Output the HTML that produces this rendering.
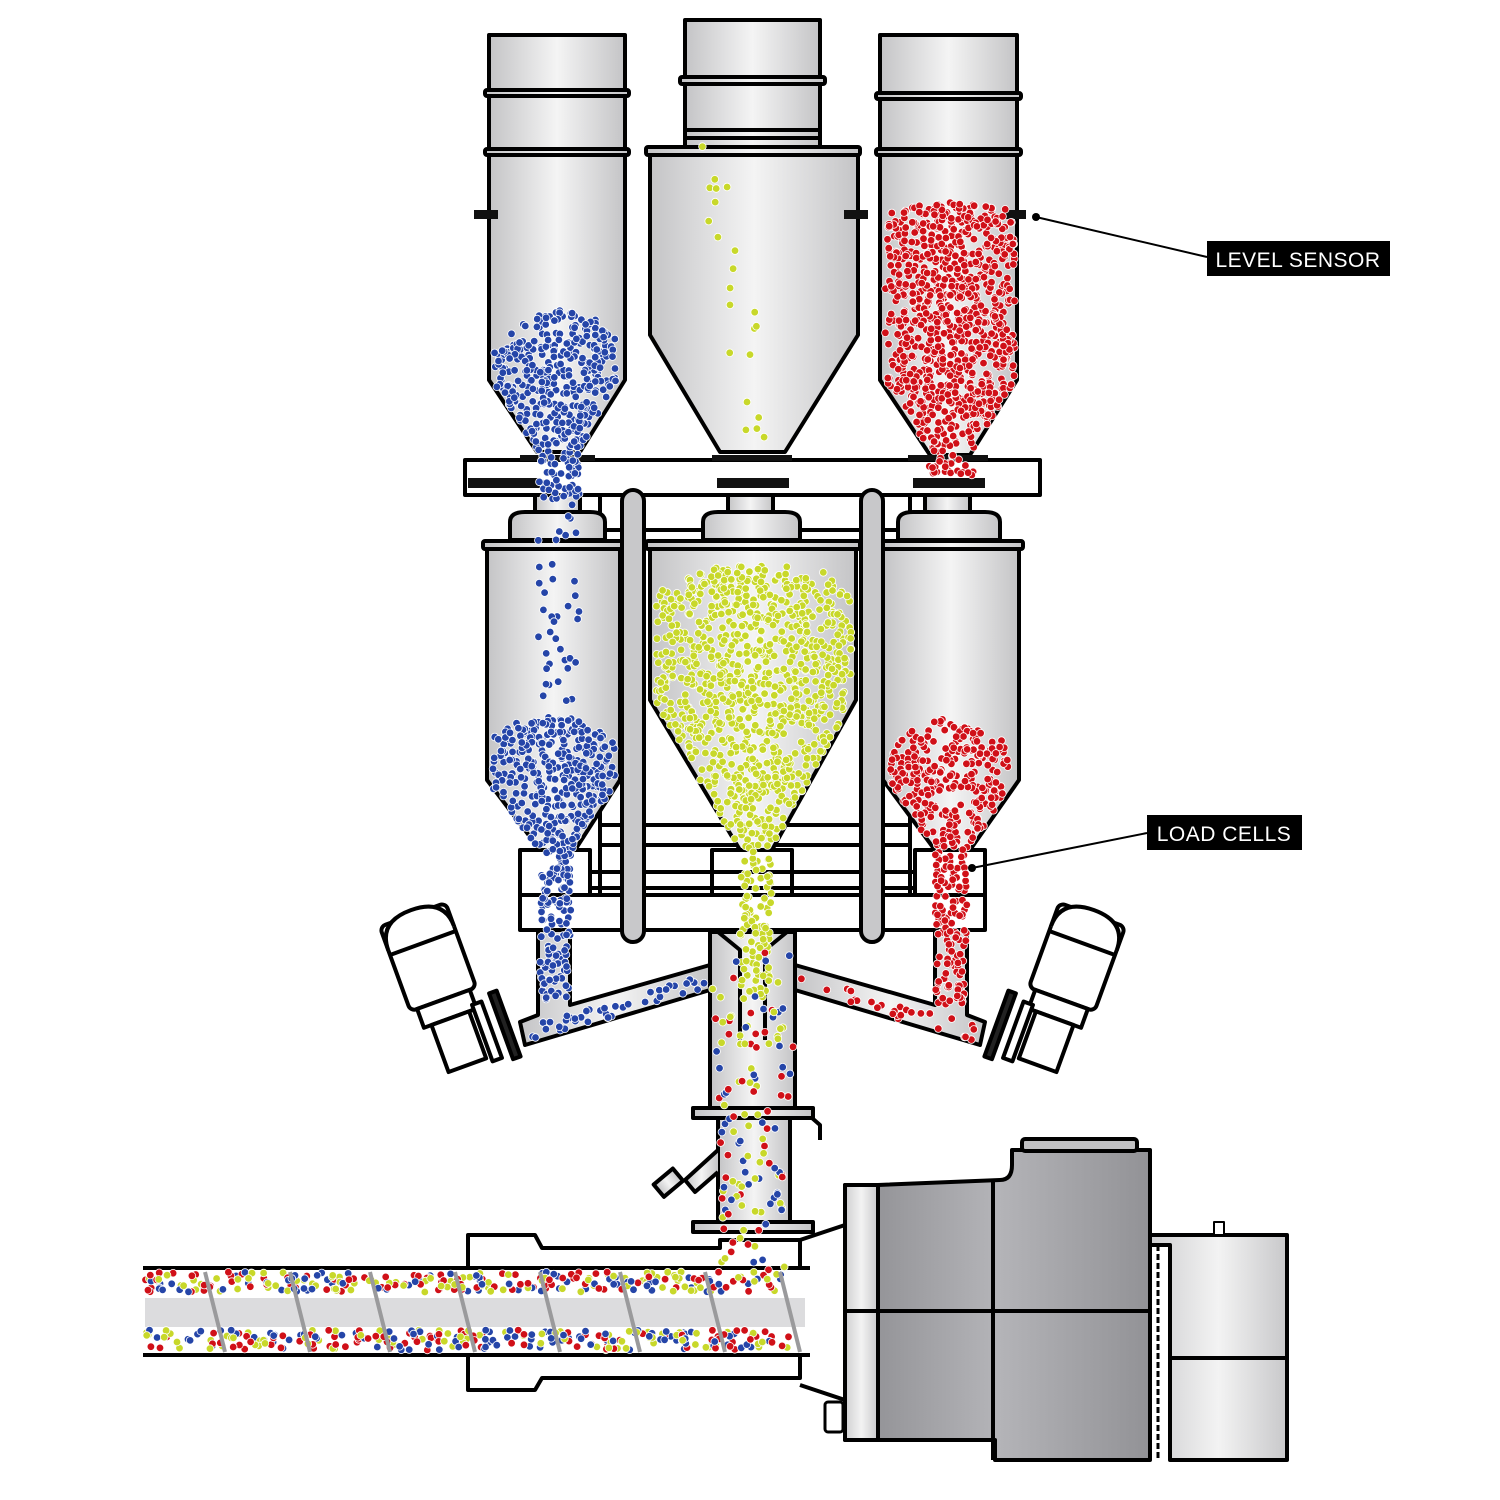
<!DOCTYPE html>
<html><head><meta charset="utf-8">
<style>
html,body{margin:0;padding:0;background:#fff;}
svg{display:block;}
.l{font-family:"Liberation Sans",sans-serif;font-size:21px;fill:#fff;letter-spacing:0.5px;}
</style></head>
<body>
<svg id="s" width="1500" height="1500" viewBox="0 0 1500 1500" xmlns="http://www.w3.org/2000/svg">
<defs>
<linearGradient id="m" x1="0" x2="1" y1="0" y2="0">
<stop offset="0" stop-color="#c4c4c6"/><stop offset="0.5" stop-color="#f4f4f4"/><stop offset="1" stop-color="#c4c4c6"/>
</linearGradient>
<linearGradient id="d" x1="0" x2="1" y1="0" y2="0">
<stop offset="0" stop-color="#8c8c90"/><stop offset="0.5" stop-color="#b4b4b8"/><stop offset="1" stop-color="#929296"/>
</linearGradient>
<linearGradient id="lt" x1="0" x2="1" y1="0" y2="0">
<stop offset="0" stop-color="#cfcfd1"/><stop offset="0.5" stop-color="#f3f3f3"/><stop offset="1" stop-color="#c8c8ca"/>
</linearGradient>
</defs>
<g stroke="#000" stroke-width="4" stroke-linejoin="round" fill="url(#m)">
<path d="M489,35 H625 V380 L580,452 H537 L489,380 Z"/>
<rect x="485" y="90" width="144" height="6" rx="2"/>
<rect x="485" y="149" width="144" height="6" rx="2"/>
<path d="M685,20 H820 V148 H685 Z"/>
<rect x="680" y="77" width="145" height="7" rx="2"/>
<rect x="685" y="130" width="135" height="8" rx="2"/>
<path d="M650,152 H858 V335 L785,452 H720 L650,335 Z"/>
<rect x="646" y="147" width="214" height="8" rx="2"/>
<path d="M880,35 H1017 V380 L970,455 H930 L880,380 Z"/>
<rect x="876" y="93" width="145" height="6" rx="2"/>
<rect x="876" y="149" width="145" height="6" rx="2"/>
<rect x="465" y="460" width="575" height="35" fill="#fff"/>
<rect x="600" y="495" width="310" height="400" fill="#fff"/>
<line x1="600" y1="530" x2="910" y2="530"/>
<line x1="600" y1="825" x2="910" y2="825"/>
<line x1="600" y1="845" x2="910" y2="845"/>
<path d="M510,540 V522 Q510,512 525,512 H590 Q605,512 605,522 V540 Z"/>
<path d="M703,540 V522 Q703,512 718,512 H785 Q800,512 800,522 V540 Z"/>
<path d="M898,540 V522 Q898,512 913,512 H985 Q1000,512 1000,522 V540 Z"/>
<rect x="535" y="495" width="45" height="17"/>
<rect x="728" y="495" width="45" height="17"/>
<rect x="925" y="495" width="45" height="17"/>
<path d="M487,545 H620 V780 L575,850 H540 L487,780 Z"/>
<rect x="483" y="541" width="141" height="8" rx="2"/>
<path d="M650,545 H856 V700 L772,850 H740 L650,700 Z"/>
<rect x="646" y="541" width="214" height="8" rx="2"/>
<path d="M883,545 H1019 V780 L970,850 H935 L883,780 Z"/>
<rect x="879" y="541" width="144" height="8" rx="2"/>
<rect x="520" y="850" width="70" height="45" fill="#fff"/>
<rect x="712" y="850" width="80" height="45" fill="#fff"/>
<rect x="915" y="850" width="70" height="45" fill="#fff"/>
<line x1="590" y1="872" x2="915" y2="872"/>
<line x1="590" y1="888" x2="915" y2="888"/>
<rect x="520" y="895" width="465" height="35" fill="#fff"/>
<rect x="622" y="490" width="22" height="452" rx="11" fill="#c8c8ca"/>
<rect x="861" y="490" width="22" height="452" rx="11" fill="#c8c8ca"/>
<path d="M538,930 V1015 L520,1022 L525,1045 L710,990 V965 L570,1005 V930 Z"/>
<path d="M967,930 V1015 L985,1022 L980,1045 L795,990 V965 L935,1005 V930 Z"/>
<rect x="710" y="932" width="85" height="180"/>
<path d="M718,932 L740,950 V1040 M787,932 L765,950 V1040" fill="none"/>
<rect x="718" y="1112" width="72" height="115"/>
<rect x="693" y="1108" width="120" height="10"/>
<path d="M812,1118 L820,1125 V1140" fill="none"/>
<path d="M718,1150 L685,1180 L695,1192 L718,1172" />
<rect x="656" y="1175" width="25" height="16" transform="rotate(-40 668 1183)"/>
<rect x="693" y="1222" width="120" height="10"/>
<g transform="rotate(-20 440 990)">
<rect x="405" y="910" width="70" height="90" rx="6" fill="#fff"/>
<path d="M405,935 Q405,905 440,905 Q475,905 475,935" fill="#fff"/>
<line x1="405" y1="940" x2="475" y2="940"/>
<rect x="412" y="1000" width="56" height="20" fill="#fff"/>
<rect x="420" y="1020" width="40" height="50" fill="#fff"/>
<rect x="465" y="1015" width="10" height="60" fill="#fff"/>
<rect x="485" y="1010" width="8" height="70" fill="#222"/>
</g>
<g transform="rotate(20 1065 990)">
<rect x="1030" y="910" width="70" height="90" rx="6" fill="#fff"/>
<path d="M1030,935 Q1030,905 1065,905 Q1100,905 1100,935" fill="#fff"/>
<line x1="1030" y1="940" x2="1100" y2="940"/>
<rect x="1037" y="1000" width="56" height="20" fill="#fff"/>
<rect x="1045" y="1020" width="40" height="50" fill="#fff"/>
<rect x="1030" y="1015" width="10" height="60" fill="#fff"/>
<rect x="1012" y="1010" width="8" height="70" fill="#222"/>
</g>
<path d="M468,1268 V1235 H535 L542,1248 H720 V1240 H800 V1268" fill="#fff"/>
<path d="M468,1355 V1390 H535 L542,1378 H800 V1355" fill="#fff"/>
<rect x="143" y="1268" width="665" height="87" fill="#fff" stroke="none"/>
<line x1="143" y1="1268" x2="810" y2="1268"/>
<line x1="143" y1="1355" x2="810" y2="1355"/>
<rect x="145" y="1298" width="660" height="29" fill="#dcdcde" stroke="none"/>
<path d="M800,1240 L845,1225 M800,1385 L845,1400" fill="none"/>
<path d="M845,1185 H878 L1000,1180 Q1012,1180 1012,1165 V1150 H1150 V1460 H995 V1440 L878,1440 H845 Z" fill="url(#d)"/>
<rect x="845" y="1185" width="33" height="255" fill="url(#lt)"/>
<line x1="878" y1="1185" x2="878" y2="1440"/>
<line x1="993" y1="1180" x2="993" y2="1460"/>
<line x1="845" y1="1311" x2="1150" y2="1311"/>
<rect x="1022" y="1139" width="115" height="12" rx="3" fill="#c0c0c2"/>
<path d="M1150,1235 H1287 V1460 H1170 V1245 H1150 Z" fill="url(#lt)"/>
<line x1="1170" y1="1358" x2="1287" y2="1358"/>
<line x1="1158" y1="1245" x2="1158" y2="1460" stroke-width="3" stroke-dasharray="6 3"/>
<rect x="1214" y="1222" width="10" height="13" fill="#fff" stroke-width="2"/>
<rect x="825" y="1402" width="18" height="30" rx="3" fill="#fff" stroke-width="3"/>
</g>
<g fill="#111">
<rect x="474" y="210" width="24" height="9"/><rect x="844" y="210" width="24" height="9"/><rect x="1004" y="210" width="22" height="9"/>
<rect x="468" y="478" width="72" height="10"/><rect x="717" y="478" width="72" height="10"/><rect x="913" y="478" width="72" height="10"/>
<rect x="520" y="455" width="75" height="6"/><rect x="712" y="455" width="80" height="6"/><rect x="908" y="455" width="80" height="6"/>
</g>
<g id="p" stroke="#fff" stroke-width="0.8"></g>
<g stroke="#9a9a9c" stroke-width="4">
<line x1="205" y1="1272" x2="225" y2="1352"/><line x1="290" y1="1272" x2="310" y2="1352"/><line x1="370" y1="1272" x2="390" y2="1352"/><line x1="455" y1="1272" x2="475" y2="1352"/><line x1="540" y1="1272" x2="560" y2="1352"/><line x1="620" y1="1272" x2="640" y2="1352"/><line x1="705" y1="1272" x2="725" y2="1352"/><line x1="780" y1="1272" x2="800" y2="1352"/>
</g>
<line x1="1036" y1="217" x2="1207" y2="257" stroke="#000" stroke-width="2"/>
<circle cx="1036" cy="217" r="4" fill="#000"/>
<rect x="1207" y="241" width="183" height="35" fill="#000"/>
<text class="l" x="1298" y="267" text-anchor="middle">LEVEL SENSOR</text>
<line x1="972" y1="868" x2="1147" y2="833" stroke="#000" stroke-width="2"/>
<circle cx="972" cy="868" r="4" fill="#000"/>
<rect x="1147" y="815" width="155" height="35" fill="#000"/>
<text class="l" x="1224" y="841" text-anchor="middle">LOAD CELLS</text>
</svg>
<script>
(function(){
var seed=7;function r(){seed=(seed*16807)%2147483647;return seed/2147483647;}
var g=document.getElementById('p'),ns='http://www.w3.org/2000/svg';
var B='#2545a8',R='#d01018',Y='#c8d82a';
function inP(x,y,p){var c=false;for(var i=0,j=p.length-1;i<p.length;j=i++){var xi=p[i][0],yi=p[i][1],xj=p[j][0],yj=p[j][1];if(((yi>y)!=(yj>y))&&(x<(xj-xi)*(y-yi)/(yj-yi)+xi))c=!c;}return c;}
function dot(x,y,c){var e=document.createElementNS(ns,'circle');e.setAttribute('cx',x.toFixed(1));e.setAttribute('cy',y.toFixed(1));e.setAttribute('r','3.8');e.setAttribute('fill',c);g.appendChild(e);}
function fill(p,cols,n){var minx=1e9,maxx=-1e9,miny=1e9,maxy=-1e9;p.forEach(function(q){minx=Math.min(minx,q[0]);maxx=Math.max(maxx,q[0]);miny=Math.min(miny,q[1]);maxy=Math.max(maxy,q[1]);});var k=0,t=0;while(k<n&&t<n*50){t++;var x=minx+r()*(maxx-minx),y=miny+r()*(maxy-miny);if(inP(x,y,p)){dot(x,y,cols[Math.floor(r()*cols.length)]);k++;}}}
fill([[495,340],[520,320],[560,310],[600,320],[618,340],[618,385],[578,452],[580,500],[535,500],[540,452],[492,385]],[B],430);
fill([[538,500],[580,500],[580,720],[538,720]],[B],40);
fill([[490,740],[520,720],[580,718],[615,740],[615,785],[572,850],[570,1002],[540,1002],[540,850],[490,785]],[B],500);
fill([[885,210],[950,200],[1015,210],[1015,380],[970,455],[975,475],[925,475],[930,455],[885,380]],[R],900);
fill([[890,740],[940,718],[1010,740],[1010,785],[968,850],[965,1005],[935,1005],[935,850],[890,785]],[R],430);
fill([[655,590],[700,570],[760,562],[820,570],[852,590],[852,700],[772,850],[770,1000],[740,1000],[740,850],[655,700]],[Y],1050);
for(var i=0;i<22;i++){var t=r();dot(705+t*60+(r()-.5)*35,130+t*320,Y);}
fill([[712,950],[793,950],[793,1110],[712,1110]],[B,R,Y],60);
fill([[720,1110],[788,1110],[788,1270],[720,1270]],[B,R,Y],70);
fill([[530,1025],[705,975],[708,990],[533,1040]],[B],40);
fill([[800,975],[975,1025],[972,1040],[797,990]],[R],28);
fill([[145,1272],[790,1272],[790,1292],[145,1292]],[B,R,Y],280);
fill([[145,1330],[790,1330],[790,1350],[145,1350]],[B,R,Y],280);
})();
</script>
</body></html>
